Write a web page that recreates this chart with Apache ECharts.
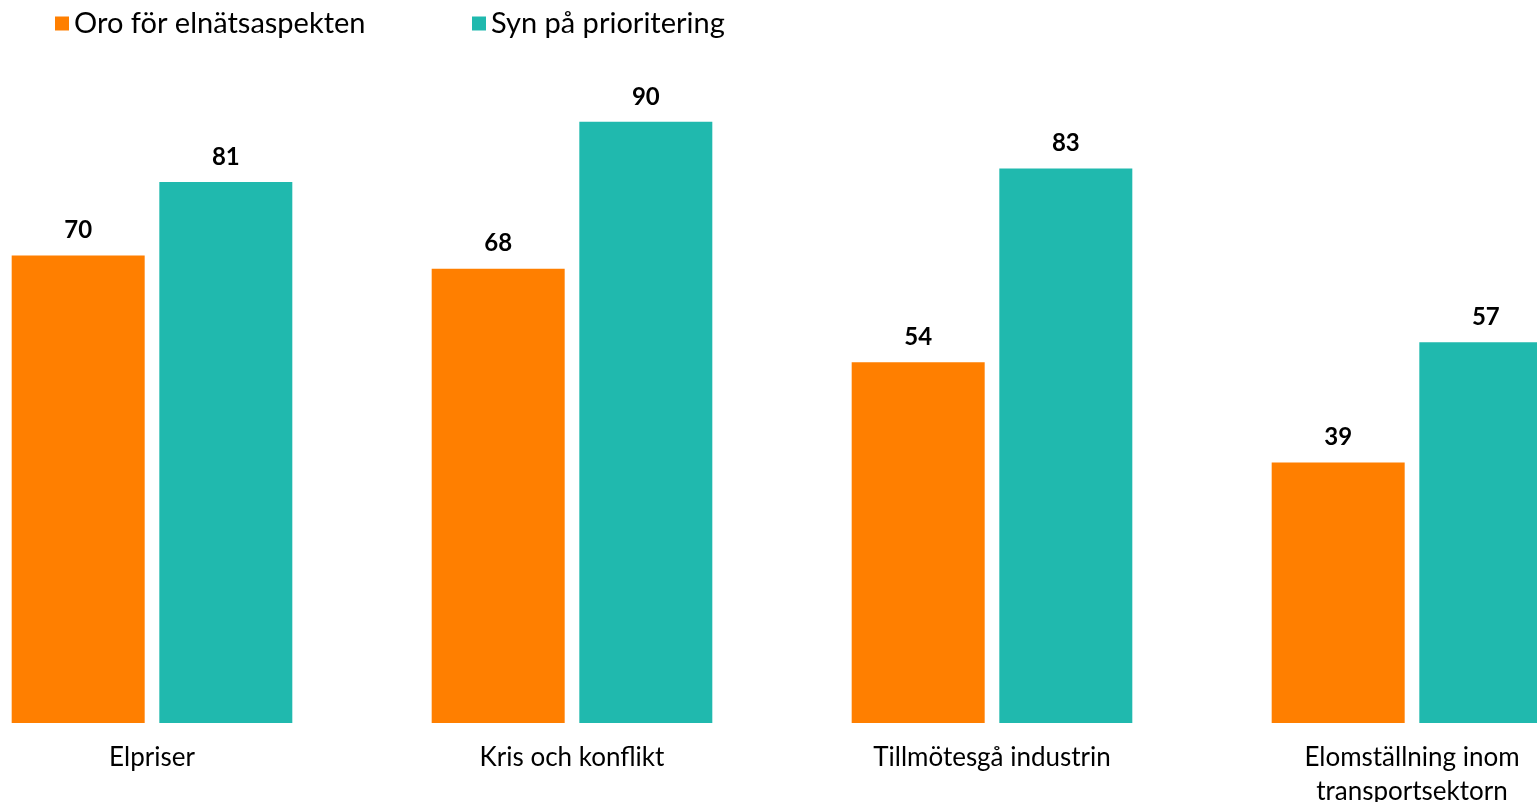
<!DOCTYPE html>
<html>
<head>
<meta charset="utf-8">
<script src="https://cdn.jsdelivr.net/npm/echarts@6/dist/echarts.min.js"></script>
<style>
  html, body { margin: 0; padding: 0; background: #fff; }
  #chart { width: 1537px; height: 802px; }
</style>
</head>
<body>
<div id="chart"></div>
<script>
// kategorier och värden
const categories = ["Elpriser", "Kris och konflikt", "Tillmötesgå industrin", "Elomställning inom\ntransportsektorn"];
const oroValues = [70, 68, 54, 39];
const synValues = [81, 90, 83, 57];
const seriesNames = ["Oro för elnätsaspekten", "Syn på prioritering"];

const ORANGE = "#FF7F00";
const TEAL = "#20B9AE";
const FONT = "Lato";

let myChart = echarts.init(document.getElementById("chart"));

let labelStyle = {
  show: true,
  position: "top",
  distance: 13,
  color: "#000",
  fontWeight: "bold",
  fontSize: 24,
  fontFamily: FONT,
};

myChart.setOption({
  animation: false,
  textStyle: { fontFamily: FONT },
  legend: [
    {
      left: 50,
      top: 4,
      icon: "rect",
      itemWidth: 14,
      itemHeight: 14,
      itemGap: 0,
      textStyle: { fontSize: 29, color: "#000", fontFamily: FONT },
      data: [seriesNames[0]],
    },
    {
      left: 467,
      top: 4,
      icon: "rect",
      itemWidth: 14,
      itemHeight: 14,
      itemGap: 0,
      textStyle: { fontSize: 29, color: "#000", fontFamily: FONT },
      data: [seriesNames[1]],
    },
  ],
  grid: {
    left: -58,
    right: -85,
    top: 55,
    bottom: 79,
    containLabel: false,
    outerBoundsMode: "none",
  },
  xAxis: {
    type: "category",
    data: categories,
    axisLine: { show: false },
    axisTick: { show: false },
    axisLabel: {
      color: "#000",
      fontSize: 26,
      fontFamily: FONT,
      margin: 18,
      lineHeight: 34,
      interval: 0,
    },
  },
  yAxis: {
    type: "value",
    min: 0,
    max: 100,
    show: false,
    splitLine: { show: false },
  },
  series: [
    {
      name: seriesNames[0],
      type: "bar",
      barWidth: 133,
      barGap: "11%",
      itemStyle: { color: ORANGE },
      label: labelStyle,
      data: oroValues,
    },
    {
      name: seriesNames[1],
      type: "bar",
      barWidth: 133,
      itemStyle: { color: TEAL },
      label: labelStyle,
      data: synValues,
    },
  ],
});
</script>
</body>
</html>
